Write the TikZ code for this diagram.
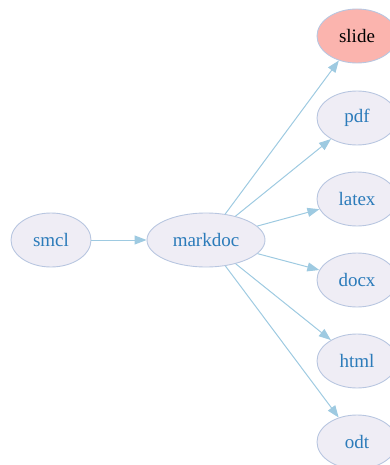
\documentclass[tikz,border=0pt]{standalone}
\usepackage{fontspec}
\setmainfont{Liberation Serif}
\usetikzlibrary{shapes.geometric,arrows.meta}
\definecolor{nodefill}{HTML}{EFEDF5}
\definecolor{nodeline}{HTML}{B8C6E0}
\definecolor{nodetext}{HTML}{2B7BBA}
\definecolor{edgecol}{HTML}{9ECAE1}
\definecolor{slidefill}{HTML}{FBB4AE}
\begin{document}
\begin{tikzpicture}[x=1pt,y=-1pt,
  gnode/.style={ellipse,draw=nodeline,fill=nodefill,line width=0.9pt,inner sep=0pt,
    minimum height=54pt,text=nodetext,font=\fontsize{19}{21}\selectfont},
  small/.style={gnode,minimum width=80pt},
  big/.style={gnode,minimum width=118pt},
  hot/.style={small,fill=slidefill,text=black},
  conn/.style={draw=edgecol,line width=1pt,-{Triangle[length=12pt,width=9pt]}}]
\useasboundingbox (0,0) rectangle (390,465);
\node[small] (smcl) at (51,240) {smcl};
\node[big] (markdoc) at (206,240) {markdoc};
\node[hot] (slide) at (357,36) {slide};
\node[small] (pdf) at (357,118) {pdf};
\node[small] (latex) at (357,199) {latex};
\node[small] (docx) at (357,280) {docx};
\node[small] (html) at (357,361) {html};
\node[small] (odt) at (357,442) {odt};
\draw[conn] (smcl) -- (markdoc);
\foreach \t in {slide,pdf,latex,docx,html,odt}
  \draw[conn] (markdoc) -- (\t);
\end{tikzpicture}
\end{document}
